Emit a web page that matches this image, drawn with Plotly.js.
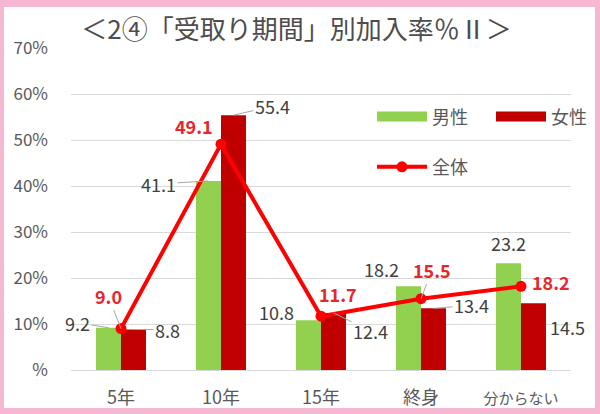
<!DOCTYPE html>
<html>
<head>
<meta charset="utf-8">
<script src="https://cdn.plot.ly/plotly-3.0.1.min.js"></script>
<style>
  html, body { margin: 0; padding: 0; background: #fff; }
  #frame { position: relative; width: 600px; height: 414px; background: #f6b7d2; }
  #chart { position: absolute; left: 4px; top: 7px; width: 591px; height: 401px; }
</style>
</head>
<body>
<div id="frame"><div id="chart"></div></div>
<script>
const categories = ['5年', '10年', '15年', '終身', '分からない'];
const male = [9.2, 41.1, 10.8, 18.2, 23.2];
const female = [8.8, 55.4, 12.4, 13.4, 14.5];
const total = [9.0, 49.1, 11.7, 15.5, 18.2];
const yTickVals = [0, 10, 20, 30, 40, 50, 60, 70];
const yTickText = ['%', '10%', '20%', '30%', '40%', '50%', '60%', '70%'];

// label offsets in px (text centre relative to the bar top / point), and leader lines
const maleOff = [[-31, -5], [-50, 3], [-32, -8], [-27, -17], [0, -20]];
const femaleOff = [[34, 0], [39, -9], [37, 18], [38, -3], [34, 24]];
const totalOff = [[-13, -33], [-27, -18], [17, -22], [11, -29], [30, -4]];
const maleLead = [true, true, false, false, false];
const femaleLead = [true, true, true, true, false];
const totalLead = [true, false, false, true, false];

const GREEN = '#92d050';
const DARKRED = '#c00000';
const RED = '#ff0000';
const FONT = '"Noto Sans CJK JP", "Noto Sans", sans-serif';

const xTickText = categories.map(c =>
  c.length > 3 ? '<span style="font-size:15px">' + c + '</span>' : c);

const men = {
  x: categories, y: male, name: '男性', type: 'bar',
  marker: { color: GREEN }, showlegend: false, hoverinfo: 'skip'
};
const women = {
  x: categories, y: female, name: '女性', type: 'bar',
  marker: { color: DARKRED }, showlegend: false, hoverinfo: 'skip'
};
const all = {
  x: categories, y: total, name: '全体', type: 'scatter', mode: 'lines+markers',
  line: { color: RED, width: 4 }, marker: { color: RED, size: 11 },
  legend: 'legend3', hoverinfo: 'skip'
};
// wide legend swatches for the bars
const menKey = {
  x: [categories[0]], y: [null], name: '男性', type: 'scatter', mode: 'lines',
  line: { color: GREEN, width: 14 }, legend: 'legend'
};
const womenKey = {
  x: [categories[0]], y: [null], name: '女性', type: 'scatter', mode: 'lines',
  line: { color: DARKRED, width: 14 }, legend: 'legend2'
};

function label(x, y, text, off, lead, color, bold) {
  return {
    x: x, y: y, xref: 'x', yref: 'y',
    text: bold ? '<b>' + text + '</b>' : text,
    showarrow: true, arrowhead: 0, arrowwidth: 1, standoff: 0,
    arrowcolor: lead ? '#a6a6a6' : 'rgba(0,0,0,0)',
    ax: off[0], ay: off[1],
    font: { family: FONT, size: 18, color: color }
  };
}

const annotations = [];
categories.forEach((c, i) => {
  annotations.push(label(i - 0.125, male[i], male[i].toFixed(1), maleOff[i], maleLead[i], '#404040', false));
  annotations.push(label(i + 0.125, female[i], female[i].toFixed(1), femaleOff[i], femaleLead[i], '#404040', false));
  annotations.push(label(i, total[i], total[i].toFixed(1), totalOff[i], totalLead[i], '#e8262b', true));
});

function legendAt(x, y) {
  return {
    orientation: 'h', x: x, xanchor: 'left', y: y, yanchor: 'middle',
    bgcolor: 'rgba(0,0,0,0)', itemwidth: 50,
    font: { family: FONT, size: 18, color: '#595959' }
  };
}

const layout = {
  width: 591, height: 401,
  margin: { l: 67, r: 24, t: 41, b: 38, autoexpand: false },
  paper_bgcolor: '#ffffff', plot_bgcolor: '#ffffff',
  font: { family: FONT, color: '#595959' },
  title: {
    text: '＜2④「受取り期間」別加入率％Ⅱ＞',
    font: { family: FONT, size: 26, color: '#4d4d4d' },
    x: 0.495, xref: 'container', xanchor: 'center',
    y: 0.943, yref: 'container', yanchor: 'middle'
  },
  barmode: 'group', bargap: 0.5, bargroupgap: 0,
  xaxis: {
    type: 'category', range: [-0.5, 4.5],
    tickvals: categories, ticktext: xTickText,
    tickfont: { family: FONT, size: 18, color: '#595959' },
    showgrid: false, showline: false, zeroline: false, ticks: '',
    ticklabelstandoff: 15
  },
  yaxis: {
    range: [0, 70], tickvals: yTickVals, ticktext: yTickText,
    tickfont: { family: FONT, size: 17, color: '#595959' },
    showgrid: true, gridcolor: '#d9d9d9', gridwidth: 1,
    zeroline: true, zerolinecolor: '#d9d9d9', zerolinewidth: 1,
    showline: false, ticks: '', ticklabelstandoff: 22
  },
  legend: legendAt(0.602, 0.786),
  legend2: legendAt(0.84, 0.786),
  legend3: legendAt(0.602, 0.63),
  annotations: annotations
};

Plotly.newPlot('chart', [men, women, all, menKey, womenKey], layout, { displayModeBar: false, staticPlot: true });
</script>
</body>
</html>
